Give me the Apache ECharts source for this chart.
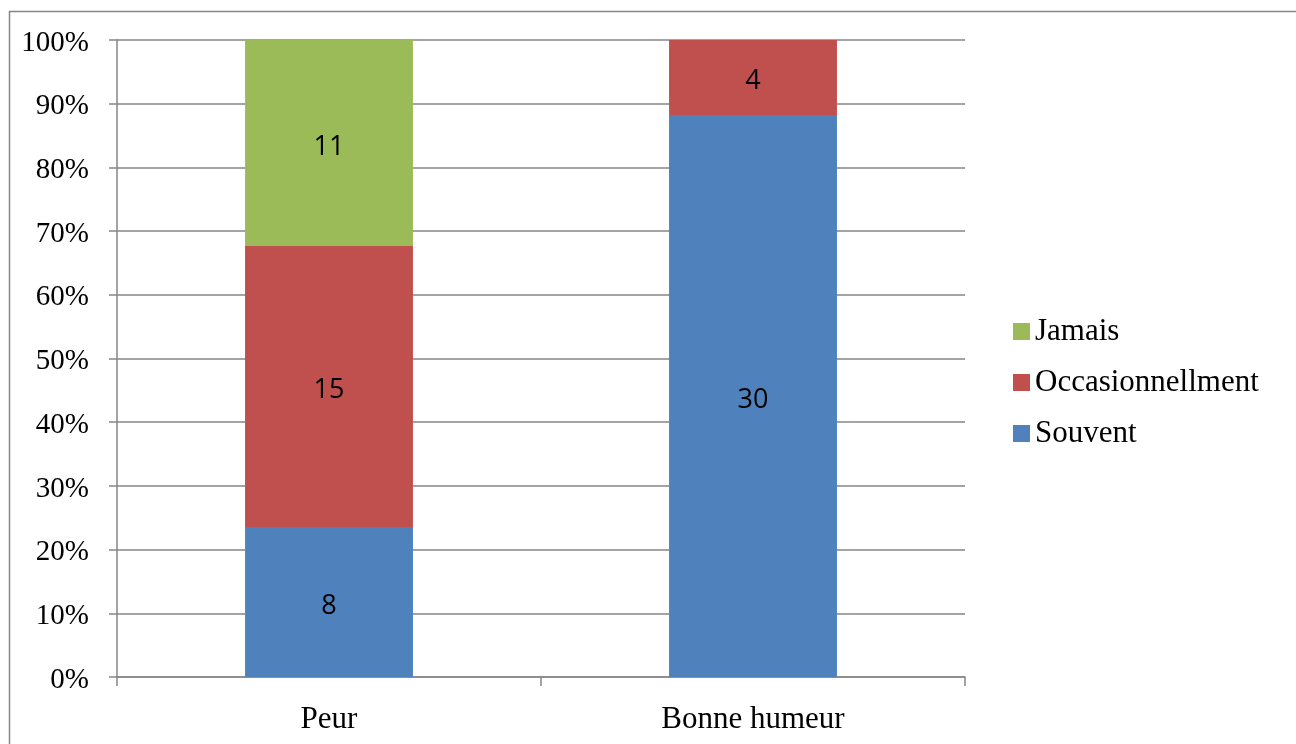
<!DOCTYPE html>
<html>
<head>
<meta charset="utf-8">
<script src="https://cdn.jsdelivr.net/npm/echarts@6/dist/echarts.min.js"></script>
<style>
  html, body { margin: 0; padding: 0; background: #fff; }
  #chart { width: 1296px; height: 744px; }
</style>
</head>
<body>
<div id="chart"></div>
<script>
// counts per category (Peur, Bonne humeur)
const categories = ['Peur', 'Bonne humeur']
const souvent = [8, 30]
const occasion = [15, 4]
const jamais = [11, 0]
const yTicks = [0, 10, 20, 30, 40, 50, 60, 70, 80, 90, 100]

const totals = categories.map((_, i) => souvent[i] + occasion[i] + jamais[i])
const pct = arr => arr.map((v, i) => ({ value: v / totals[i] * 100, count: v }))

const GRID = '#868686'
const serif = 'Liberation Serif'

function series(name, arr, color) {
  return {
    name, type: 'bar', stack: 'all', barWidth: '39.6%',
    itemStyle: { color },
    label: {
      show: true, position: 'inside', offset: [0, 4], color: '#000',
      fontFamily: 'Open Sans', fontSize: 27,
      formatter: p => p.data.count ? String(p.data.count) : '',
    },
    data: pct(arr),
  }
}

const chart = echarts.init(document.getElementById('chart'))
chart.setOption({
  animation: false,
  textStyle: { fontFamily: serif },
  graphic: [{
    type: 'rect', left: 7, top: 9, silent: true,
    shape: { width: 1300, height: 750 },
    style: { fill: 'none', stroke: GRID, lineWidth: 1.5 },
  }],
  grid: { left: 117, right: 331, top: 40, bottom: 67 },
  legend: {
    orient: 'vertical', left: 1008, top: 311,
    itemWidth: 17, itemHeight: 17, itemGap: 20,
    icon: 'rect',
    data: ['Jamais', 'Occasionnellment', 'Souvent'],
    textStyle: { fontFamily: serif, fontSize: 31, color: '#000' },
  },
  xAxis: {
    type: 'category', data: categories,
    axisLine: { lineStyle: { color: GRID, width: 1.5 } },
    axisTick: { show: true, length: 9, lineStyle: { color: GRID, width: 1.5 } },
    axisLabel: { margin: 27, fontFamily: serif, fontSize: 31, color: '#000' },
  },
  yAxis: {
    type: 'value', min: yTicks[0], max: yTicks[yTicks.length - 1], interval: 10,
    axisLine: { show: true, lineStyle: { color: GRID, width: 1.5 } },
    axisTick: { show: true, length: 8, lineStyle: { color: GRID, width: 1.5 } },
    splitLine: { lineStyle: { color: GRID, width: 1.5 } },
    axisLabel: {
      margin: 28, color: '#000',
      formatter: v => '{s|}\n{v|' + v + '%}',
      rich: {
        s: { height: 6, fontSize: 6 },
        v: { fontFamily: serif, fontSize: 29, color: '#000' },
      },
    },
  },
  series: [
    series('Souvent', souvent, '#4F81BD'),
    series('Occasionnellment', occasion, '#C0504D'),
    series('Jamais', jamais, '#9BBB59'),
  ],
})
</script>
</body>
</html>
